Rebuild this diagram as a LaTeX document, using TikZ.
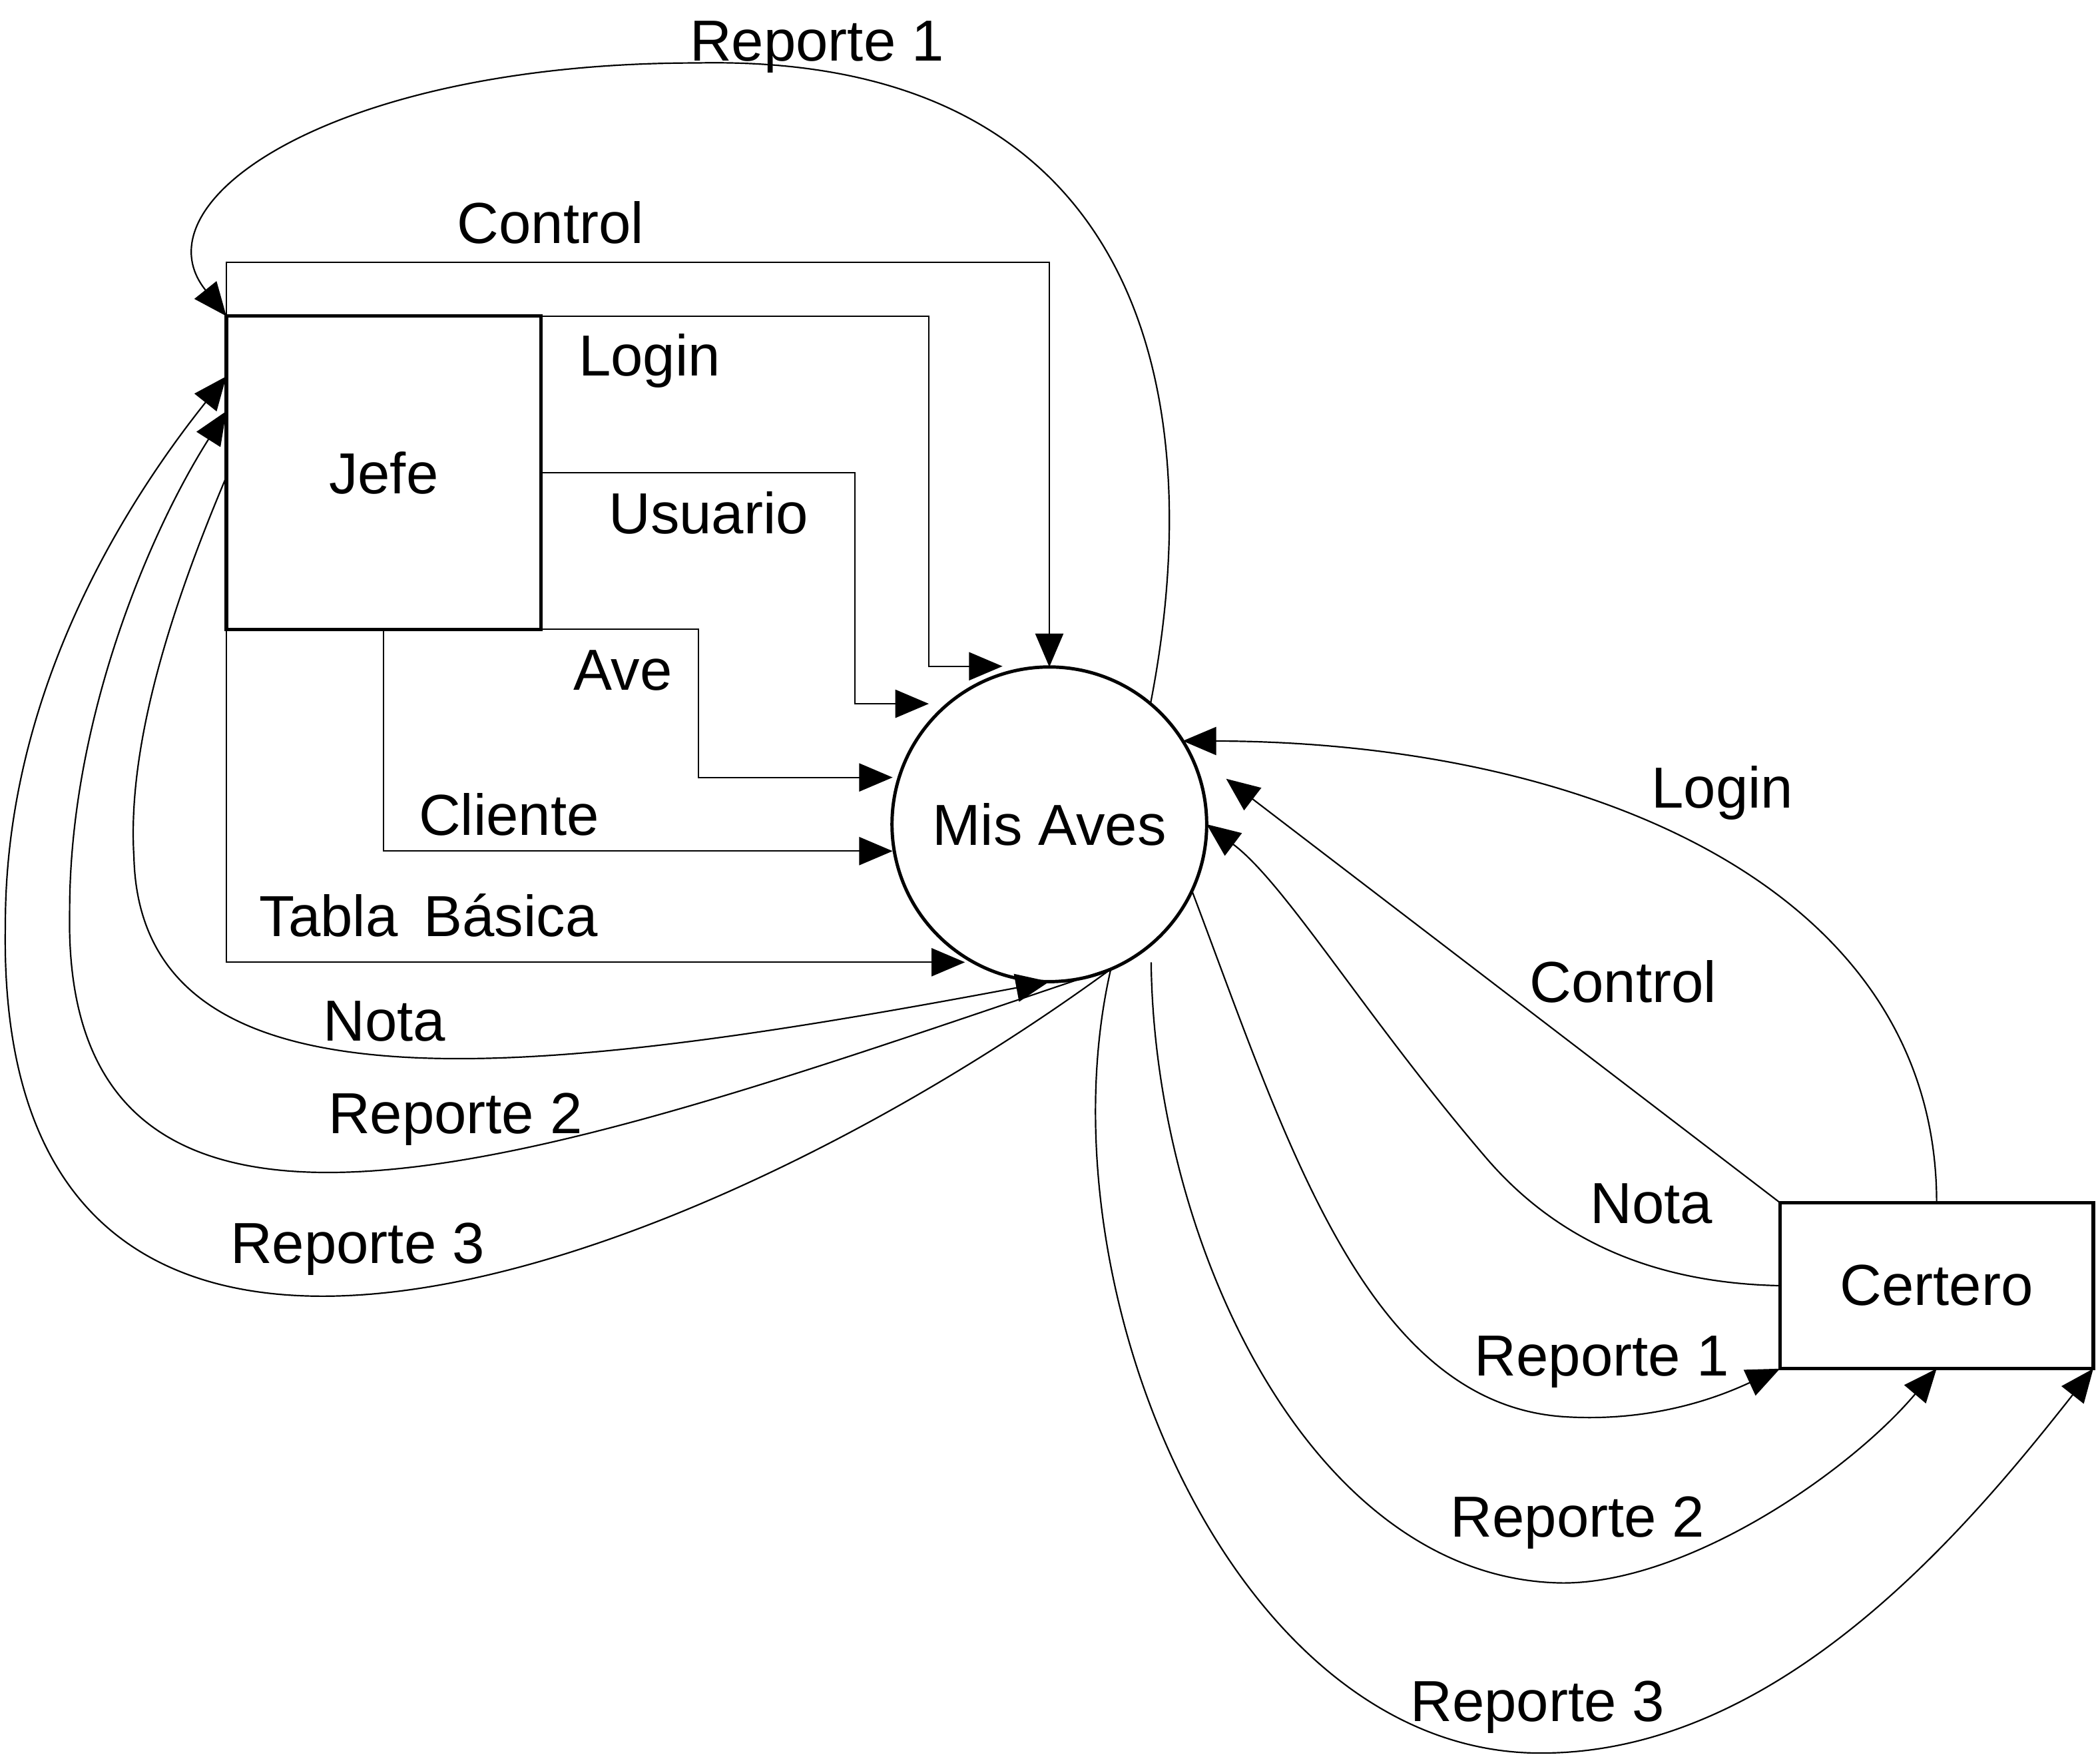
\documentclass[tikz,border=0pt]{standalone}
\usepackage{fontspec}
\setmainfont{Liberation Sans}
\usetikzlibrary{arrows.meta, calc}

\begin{document}
\begin{tikzpicture}[x=0.02cm, y=-0.02cm, line width=0.62pt, font=\fontsize{24.6}{30}\selectfont,
	>={Triangle[length=0.5cm, width=0.42cm]},
	ent/.style = {draw, line width=1.5pt, inner sep=0pt, outer sep=0pt},
	proc/.style = {draw, circle, line width=1.4pt, inner sep=0pt, outer sep=0pt, minimum size=4.7cm},
	lbl/.style = {inner sep=0pt, text height=17.6pt, text depth=0pt}]
	\useasboundingbox (0,0) rectangle (1568,1313);
	\node[ent, minimum width=4.7cm, minimum height=4.68cm] (jefe) at (286.5,353) {Jefe};
	\node[proc] (aves) at (783.5,615.5) {Mis Aves};
	\node[ent, minimum width=4.68cm, minimum height=2.48cm] (certero) at (1446,960) {Certero};

	\draw[->] (jefe.north west) -- ++(0,-40) -| (aves.north);
	\draw[->] (jefe.north east) -| ($(aves)+(-90,-118)$) -- ($(aves)+(-35,-118)$);
	\draw[->] (jefe.east) -| ($(aves)+(-145,-90)$) -- ($(aves)+(-90,-90)$);
	\draw[->] (jefe.south east) -| ($(aves)+(-262,-35)$) -- ($(aves)+(-117,-35)$);
	\draw[->] (jefe.south) |- ($(aves)+(-117,20)$);
	\draw[->] (jefe.south west) |- ($(aves)+(-63,103)$);

	\draw[->] (aves.50) .. controls (905,290) and (850,40) .. (520,47) .. controls (250,47) and (100,150) .. (jefe.north west);
	\draw[->] ($(jefe.west)+(0,3)$) .. controls (125,460) and (95,560) .. (100,640) .. controls (105,840) and (400,805) .. (aves.south);
	\draw[->] (aves.-65) .. controls (450,850) and (45,1010) .. (52,680) .. controls (52,540) and (110,400) .. ($(jefe.west)+(0,-46)$);
	\draw[->] (aves.-67) .. controls (520,950) and (-5,1150) .. (4,690) .. controls (4,520) and (90,380) .. ($(jefe.west)+(0,-72)$);

	\draw[->] (certero.north) .. controls (1446,660) and (1180,554) .. (aves.32);
	\draw[->] (certero.north west) -- ($(aves)+(132,-34)$);
	\draw[->] (certero.west) .. controls (1230,958) and (1160,923) .. (1110,865) .. controls (1020,760) and (960,660) .. (aves.east);
	\draw[->] (aves.-25) .. controls (960,850) and (1020,1050) .. (1170,1058) .. controls (1240,1062) and (1290,1040) .. (certero.south west);
	\draw[->] ($(aves)+(76,103)$) .. controls (862,930) and (980,1180) .. (1167,1182) .. controls (1260,1182) and (1380,1100) .. (certero.south);
	\draw[->] (aves.-67) .. controls (775,960) and (920,1310) .. (1151,1309) .. controls (1330,1309) and (1470,1140) .. (certero.south east);

	\node[lbl] (trep1) at (610,30) {Reporte 1};
	\node[lbl] (tcontrol) at (411,166) {Control};
	\node[lbl] (tlogin) at (485,265) {Login};
	\node[lbl] (tusuario) at (529,383) {Usuario};
	\node[lbl] (tave) at (465,500) {Ave};
	\node[lbl] (tcliente) at (380,608) {Cliente};
	\node[lbl] (ttabla) at (320,684) {Tabla\hspace{0.45em}Básica};
	\node[lbl] (tnota) at (287,762) {Nota};
	\node[lbl] (trep2) at (340,831) {Reporte 2};
	\node[lbl] (trep3) at (267,928) {Reporte 3};
	\node[lbl] (clogin) at (1286,588) {Login};
	\node[lbl] (ccontrol) at (1212,733) {Control};
	\node[lbl] (cnota) at (1233,898) {Nota};
	\node[lbl] (crep1) at (1196,1012) {Reporte 1};
	\node[lbl] (crep2) at (1178,1132) {Reporte 2};
	\node[lbl] (crep3) at (1148,1270) {Reporte 3};
\end{tikzpicture}
\end{document}
